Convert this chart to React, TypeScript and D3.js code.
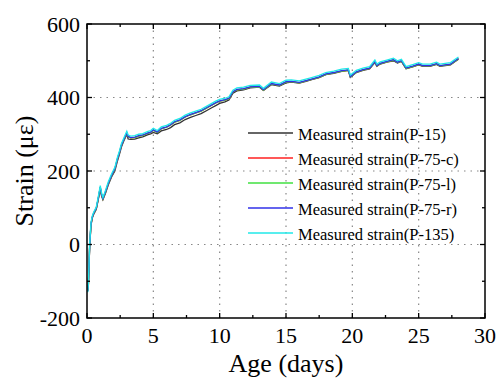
import React from "react";
import * as d3 from "d3";

const days = [0.05,0.1,0.2,0.3,0.4,0.5,0.7,0.85,1.0,1.1,1.2,1.4,1.6,1.85,2.1,2.3,2.45,2.6,2.8,3.0,3.1,3.3,3.6,3.9,4.2,4.6,4.8,5.0,5.3,5.6,6.0,6.3,6.6,7.0,7.4,7.8,8.2,8.6,9.0,9.4,9.7,10.0,10.4,10.7,11.0,11.3,11.8,12.3,13.0,13.3,13.9,14.5,15.0,15.4,16.0,16.5,17.0,17.5,18.0,18.6,19.2,19.7,19.85,20.3,20.8,21.3,21.7,21.85,22.1,22.6,23.1,23.4,23.7,24.05,24.6,25.0,25.3,25.85,26.35,26.6,27.0,27.4,27.75,28.0];

const strainP15 = [-125,-115,-8,52,72,82,96,122,150,132,122,140,162,184,200,228,246,266,284,300,287,286,287,290,293,299,301,305,301,309,313,318,326,331,340,346,351,356,364,372,378,384,388,393,412,418,421,426,428,419,435,431,440,442,439,444,449,454,462,466,471,474,455,468,474,478,495,485,491,496,500,494,498,478,484,489,485,485,490,485,487,489,498,504];
const strainP75c = [-126,-113,-5,55,74,84,98,125,155,135,124,143,165,187,205,233,250,270,287,303,293,290,291,295,297,303,305,311,305,315,319,325,333,338,347,353,358,363,371,379,385,390,393,397,415,421,423,428,429,420,437,433,442,443,440,445,450,455,463,467,472,474,456,469,475,479,497,486,492,497,502,495,499,479,485,490,486,486,491,486,488,490,499,505];
const strainP75l = [-127,-114,-6,55,74,84,98,125,155,136,124,143,165,187,205,233,250,270,287,303,293,290,291,295,297,303,305,311,305,315,319,325,333,338,347,353,358,363,371,379,385,390,393,397,415,421,423,428,429,420,437,433,442,443,440,445,450,455,463,467,472,474,456,469,475,479,497,486,492,497,502,495,499,479,485,490,486,486,491,486,488,490,499,505];
const strainP75r = [-128,-112,-4,56,75,85,99,126,156,136,125,144,166,188,206,234,251,271,288,304,294,291,292,296,298,304,306,312,306,316,320,326,334,339,348,354,359,364,372,380,386,391,394,398,416,422,424,429,430,421,438,434,443,444,441,446,451,456,464,468,473,475,457,470,476,480,498,487,493,498,503,496,500,480,486,491,487,487,492,487,489,491,500,506];
const strainP135 = [-130,-110,0,60,78,88,102,130,160,140,128,148,170,192,210,238,255,275,292,308,298,295,296,300,302,308,310,316,310,320,324,330,338,343,352,358,363,368,376,384,390,395,398,402,420,426,428,433,434,425,442,438,447,448,445,450,455,460,468,472,477,479,461,474,480,484,502,491,497,502,507,500,504,484,490,495,491,491,496,491,493,495,504,510];

const seriesNames = ["Measured strain(P-15)","Measured strain(P-75-c)","Measured strain(P-75-l)","Measured strain(P-75-r)","Measured strain(P-135)"];
const seriesValues = [strainP15, strainP75c, strainP75l, strainP75r, strainP135];
const seriesColors = ["#333333","#ff2020","#40e040","#3030e8","#20e8e8"];

const xTicks = [0,5,10,15,20,25,30];
const xMinor = [2.5,7.5,12.5,17.5,22.5,27.5];
const yTicks = [-200,0,200,400,600];
const yMinor = [-100,100,300,500];

const W = 498, H = 381;
const L = 87, R = 485, T = 24, B = 318;
const FONT = "Liberation Serif";
const ts = { fontFamily: FONT };

export default function App() {
  const x = d3.scaleLinear().domain([0, 30]).range([L, R]);
  const y = d3.scaleLinear().domain([-200, 600]).range([B, T]);
  const line = d3.line<[number, number]>().x(d => x(d[0])).y(d => y(d[1]));

  return (
    <svg width={W} height={H} style={{ position: "absolute", left: 0, top: 0, background: "#fff" }}>
      <rect x={0} y={0} width={W} height={H} fill="#fff" />
      {xTicks.filter(t => t > 0 && t < 30).map(t => (
        <line key={"gx" + t} x1={x(t)} x2={x(t)} y1={T} y2={B} stroke="#888" strokeWidth={1.2} strokeDasharray="1.5,5" />
      ))}
      {yTicks.filter(t => t > -200 && t < 600).map(t => (
        <line key={"gy" + t} x1={L} x2={R} y1={y(t)} y2={y(t)} stroke="#888" strokeWidth={1.2} strokeDasharray="1.5,5" />
      ))}
      {seriesValues.map((vals, i) => (
        <path key={"s" + i} d={line(days.map((d, j) => [d, vals[j]] as [number, number])) || ""} fill="none" stroke={seriesColors[i]} strokeWidth={1.3} />
      ))}
      <rect x={L} y={T} width={R - L} height={B - T} fill="none" stroke="#000" strokeWidth={1.5} />
      {xTicks.map(t => (
        <g key={"xt" + t}>
          <line x1={x(t)} x2={x(t)} y1={B} y2={B - 5} stroke="#000" strokeWidth={1.3} />
          <line x1={x(t)} x2={x(t)} y1={T} y2={T + 5} stroke="#000" strokeWidth={1.3} />
          <text x={x(t)} y={343} textAnchor="middle" fontSize={22} fill="#000" style={ts}>{t}</text>
        </g>
      ))}
      {xMinor.map(t => (
        <g key={"xm" + t}>
          <line x1={x(t)} x2={x(t)} y1={B} y2={B - 3} stroke="#000" strokeWidth={1.3} />
          <line x1={x(t)} x2={x(t)} y1={T} y2={T + 3} stroke="#000" strokeWidth={1.3} />
        </g>
      ))}
      {yTicks.map(t => (
        <g key={"yt" + t}>
          <line x1={L} x2={L + 5} y1={y(t)} y2={y(t)} stroke="#000" strokeWidth={1.3} />
          <line x1={R} x2={R - 5} y1={y(t)} y2={y(t)} stroke="#000" strokeWidth={1.3} />
          <text x={80} y={y(t) + 7.5} textAnchor="end" fontSize={22} fill="#000" style={ts}>{t}</text>
        </g>
      ))}
      {yMinor.map(t => (
        <g key={"ym" + t}>
          <line x1={L} x2={L + 3} y1={y(t)} y2={y(t)} stroke="#000" strokeWidth={1.3} />
          <line x1={R} x2={R - 3} y1={y(t)} y2={y(t)} stroke="#000" strokeWidth={1.3} />
        </g>
      ))}
      {seriesNames.map((n, i) => {
        const ly = 133 + i * 25;
        return (
          <g key={"lg" + i}>
            <line x1={248} x2={293} y1={ly} y2={ly} stroke={seriesColors[i]} strokeWidth={1.3} />
            <text x={298} y={ly + 7} fontSize={16.5} fill="#000" style={ts}>{n}</text>
          </g>
        );
      })}
      <text x={(L + R) / 2} y={372} textAnchor="middle" fontSize={26} fill="#000" style={ts}>Age (days)</text>
      <text transform={`translate(33,${(T + B) / 2}) rotate(-90)`} textAnchor="middle" fontSize={26} fill="#000" style={ts}>Strain (με)</text>
    </svg>
  );
}
